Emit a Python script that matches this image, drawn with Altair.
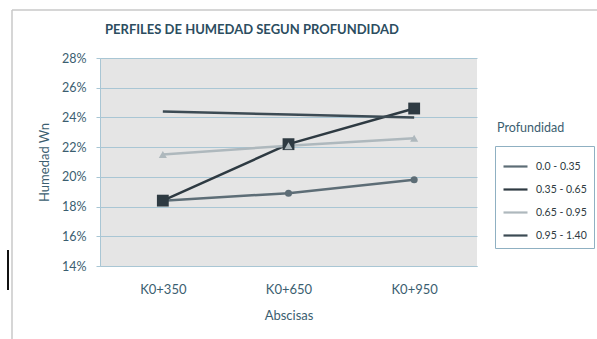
import altair as alt
import pandas as pd

# Station chainages along the alignment
abscisas = ["K0+350", "K0+650", "K0+950"]

# Moisture content (fraction) per depth interval
profundidades = ["0.0 - 0.35", "0.35 - 0.65", "0.65 - 0.95", "0.95 - 1.40"]
wn_000_035 = [0.184, 0.189, 0.198]
wn_035_065 = [0.184, 0.222, 0.246]
wn_065_095 = [0.215, 0.221, 0.226]
wn_095_140 = [0.244, 0.242, 0.240]

titulo = "PERFILES DE HUMEDAD SEGUN PROFUNDIDAD"

series = [wn_000_035, wn_035_065, wn_065_095, wn_095_140]
rows = []
for prof, vals in zip(profundidades, series):
    for ab, v in zip(abscisas, vals):
        rows.append({"Abscisa": ab, "Profundidad": prof, "Wn": v})
df = pd.DataFrame(rows)

line_colors = ["#5d6d76", "#2e3a42", "#aeb8bd", "#3c4b54"]
font = "Lato"
text_col = "#3b5e70"
grid_col = "#a9c6d4"

x_enc = alt.X(
    "Abscisa:N", sort=abscisas, title="Abscisas",
    scale=alt.Scale(type="point", padding=0.5),
    axis=alt.Axis(labelAngle=0, labelPadding=17, titlePadding=13, ticks=False,
                  domainColor=grid_col, labelFont=font, labelFontSize=13,
                  labelColor=text_col, titleFont=font, titleFontSize=13,
                  titleFontWeight="normal", titleColor=text_col),
)
y_enc = alt.Y(
    "Wn:Q", title="Humedad Wn",
    scale=alt.Scale(domain=[0.14, 0.28], nice=False),
    axis=alt.Axis(format=".0%", values=[0.14, 0.16, 0.18, 0.20, 0.22, 0.24, 0.26, 0.28],
                  gridColor=grid_col, gridWidth=1, tickColor=grid_col, tickSize=4,
                  domainColor=grid_col, labelPadding=10, labelFont=font, labelFontSize=12.5,
                  labelColor=text_col, titleFont=font, titleFontSize=13,
                  titleFontWeight="normal", titleColor=text_col, titlePadding=10),
)
color_enc = alt.Color(
    "Profundidad:N", sort=profundidades,
    scale=alt.Scale(domain=profundidades, range=line_colors),
    legend=alt.Legend(orient="none", legendX=395, legendY=88, title=None,
                      symbolType="stroke", symbolSize=576, symbolStrokeWidth=2.2,
                      labelFont=font, labelFontSize=10.5, labelColor="#2e3a42",
                      labelOffset=7, rowPadding=4, padding=7, strokeColor="#8fb0c2",
                      labelLimit=90),
)

lines = alt.Chart(df).mark_line(strokeWidth=2.5).encode(
    x=x_enc, y=y_enc, color=color_enc, detail="Profundidad:N"
)

circles = alt.Chart(df[df.Profundidad == profundidades[0]]).mark_point(
    filled=True, shape="circle", size=50, opacity=1
).encode(x=x_enc, y=y_enc, color=alt.value(line_colors[0]))

squares = alt.Chart(df[df.Profundidad == profundidades[1]]).mark_point(
    filled=True, shape="square", size=140, opacity=1
).encode(x=x_enc, y=y_enc, color=alt.value(line_colors[1]))

triangles = alt.Chart(df[df.Profundidad == profundidades[2]]).mark_point(
    filled=True, shape="triangle-up", size=65, opacity=1
).encode(x=x_enc, y=y_enc, color=alt.value(line_colors[2]))

title_text = alt.Chart(pd.DataFrame({"t": [titulo]})).mark_text(
    align="left", baseline="middle", font=font, fontSize=13, fontWeight="bold",
    color="#2c4d5f"
).encode(x=alt.value(5), y=alt.value(-28), text="t:N")

legend_title = alt.Chart(pd.DataFrame({"t": ["Profundidad"]})).mark_text(
    align="left", baseline="middle", font=font, fontSize=12.5, color=text_col
).encode(x=alt.value(397), y=alt.value(70), text="t:N")

frame_left = alt.Chart(pd.DataFrame({"a": [0]})).mark_rule(color="#c9c9c9", strokeWidth=1.5).encode(
    x=alt.value(-88), y=alt.value(-48), y2=alt.value(290)
)
frame_top = alt.Chart(pd.DataFrame({"a": [0]})).mark_rule(color="#c9c9c9", strokeWidth=1.5).encode(
    x=alt.value(-88), x2=alt.value(500), y=alt.value(-48)
)
cursor_bar = alt.Chart(pd.DataFrame({"a": [0]})).mark_rule(color="#111111", strokeWidth=2).encode(
    x=alt.value(-92), y=alt.value(192), y2=alt.value(232)
)

chart = alt.layer(
    lines, circles, squares, triangles, title_text, legend_title,
    frame_left, frame_top, cursor_bar
).properties(
    width=377, height=208,
    autosize=alt.AutoSizeParams(type="none"),
    padding={"left": 100, "top": 58, "right": 120, "bottom": 73},
).configure(
    background="white",
    view=alt.ViewConfig(fill="#e5e5e5", stroke=None),
)

chart.save("out.html", embed_options={"renderer": "svg", "actions": False})
